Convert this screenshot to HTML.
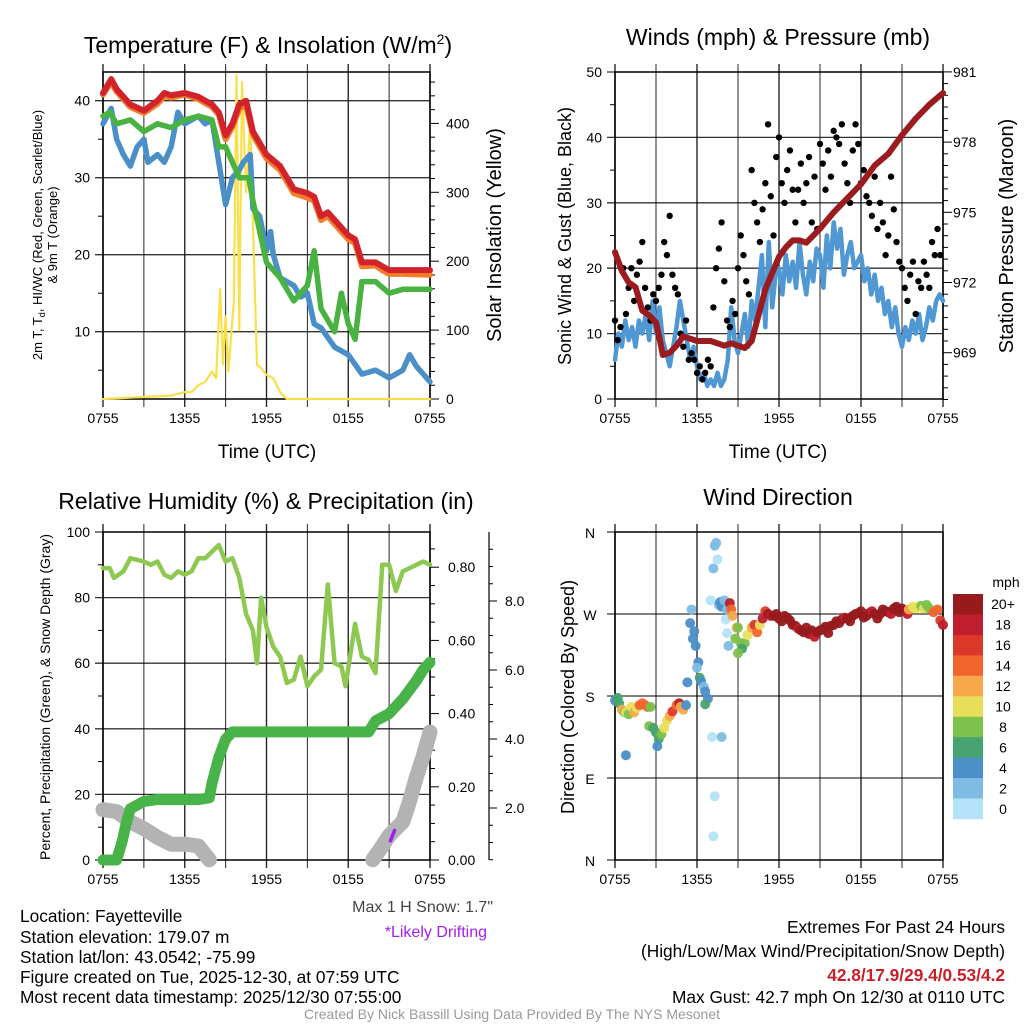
<!DOCTYPE html>
<html><head><meta charset="utf-8"><style>
html,body{margin:0;padding:0;background:#fff;}
svg{display:block;font-family:"Liberation Sans",Arial,sans-serif;}
.n{font-family:"Liberation Sans Narrow","Liberation Sans",sans-serif;}
</style></head><body>
<svg id="c" width="1024" height="1024" viewBox="0 0 1024 1024" xmlns="http://www.w3.org/2000/svg">
<rect width="1024" height="1024" fill="#fff"/>
<g id="g1"></g>
<g id="g2"></g>
<g id="g3"></g>
<g id="g4"></g>
<text x="268" y="53" font-size="23" text-anchor="middle">Temperature (F) &amp; Insolation (W/m<tspan font-size="14" dy="-9">2</tspan><tspan dy="9">)</tspan></text>
<text x="778" y="45" font-size="23" text-anchor="middle">Winds (mph) &amp; Pressure (mb)</text>
<text x="266" y="509" font-size="23" text-anchor="middle">Relative Humidity (%) &amp; Precipitation (in)</text>
<text x="778" y="505" font-size="23" text-anchor="middle">Wind Direction</text>
<text transform="translate(42,235) rotate(-90)" font-size="13" text-anchor="middle">2m T, T<tspan font-size="9" dy="3">d</tspan><tspan dy="-3">, HI/WC (Red, Green, Scarlet/Blue)</tspan></text>
<text transform="translate(57,235) rotate(-90)" font-size="13" text-anchor="middle">&amp; 9m T (Orange)</text>
<text transform="translate(501,235) rotate(-90)" font-size="20" text-anchor="middle">Solar Insolation (Yellow)</text>
<text x="267" y="458" font-size="19" text-anchor="middle">Time (UTC)</text>
<text x="778" y="458" font-size="19" text-anchor="middle">Time (UTC)</text>
<text transform="translate(571,236) rotate(-90)" font-size="18" text-anchor="middle">Sonic Wind &amp; Gust (Blue, Black)</text>
<text transform="translate(1013,236) rotate(-90)" font-size="20" text-anchor="middle">Station Pressure (Maroon)</text>
<text transform="translate(50,697) rotate(-90)" font-size="14" text-anchor="middle">Percent, Precipitation (Green), &amp; Snow Depth (Gray)</text>
<text transform="translate(574,697) rotate(-90)" font-size="18" text-anchor="middle">Direction (Colored By Speed)</text>
<g class="n" font-size="17.3">
<text x="493" y="912" text-anchor="end" fill="#444" font-size="16">Max 1 H Snow: 1.7"</text>
<text x="487" y="937" text-anchor="end" fill="#a020f0" font-size="16">*Likely Drifting</text>
<text x="20" y="922">Location: Fayetteville</text>
<text x="20" y="943">Station elevation: 179.07 m</text>
<text x="20" y="963">Station lat/lon: 43.0542; -75.99</text>
<text x="20" y="983">Figure created on Tue, 2025-12-30, at 07:59 UTC</text>
<text x="20" y="1003">Most recent data timestamp: 2025/12/30 07:55:00</text>
<text x="1005" y="933" text-anchor="end">Extremes For Past 24 Hours</text>
<text x="1005" y="957" text-anchor="end">(High/Low/Max Wind/Precipitation/Snow Depth)</text>
<text x="1005" y="981" text-anchor="end" fill="#c8202a" font-weight="bold">42.8/17.9/29.4/0.53/4.2</text>
<text x="1005" y="1003" text-anchor="end">Max Gust: 42.7 mph On 12/30 at 0110 UTC</text>
<text x="512" y="1019" text-anchor="middle" font-size="14" fill="#999">Created By Nick Bassill Using Data Provided By The NYS Mesonet</text>
</g>
</svg>
<script>
// ---- data ----
const xTickLabels=["0755","1355","1955","0155","0755"];
const tRed=[0,0.6,1,2,3,4,4.5,5,6,7,8,8.5,9,9.5,10,10.5,11,12,13,14,15,15.5,16,16.5,17,18,18.5,19,20,20.5,21,22,24];
const vRed=[41,42.8,41.5,39.5,38.7,40,41,40.7,41,40.5,39.5,38.5,35.5,37,39.5,40,36,33,31.5,28.5,28,27.5,25,25.5,24.5,22.5,22,19,19,18.5,18,18,18];
const vOrange=[40.8,42.4,41.2,39.2,38.4,39.6,40.6,40.4,40.8,40.2,39.2,38.2,35,36.6,39,39.4,35.6,32.5,31,28,27.4,27,24.5,25,24,22,21.5,18.5,18.6,18,17.5,17.5,17.4];
const tGreen=[0,0.5,1,2,3,4,5,6,7,8,8.5,9,10,10.7,11,12,13,14,15,15.5,16,17,17.5,18,18.5,19,20,21,22,24];
const vGreen=[38,38.5,37,37.5,36,37,36.5,37.5,38,37.5,34,34,30,30,27,19,17,14,16,20.5,13,10,15,11,9,16.5,16.5,15,15.5,15.5];
const tBlue=[0,0.6,1,1.5,2,2.5,3,3.3,4,4.5,5,5.5,6,6.5,7,7.5,8,8.5,9,9.5,10,10.3,10.8,11,11.5,12,12.3,12.5,13,14,14.5,15,15.5,16,17,18,19,20,21,22,22.5,23,24];
const vBlue=[37,39,35,33,31.5,34,35,32,33,32,34,38.5,37,37.5,38,37,37.5,32,26.5,30,31,32,33,26,25,20.5,23,20,17,16,14.5,15,11,10.5,8,7,4.5,5,4,5,7,5.5,3.5];
const tSolar=[0,5,6,6.5,7,7.5,8,8.3,8.6,8.8,9,9.2,9.6,9.8,10,10.2,10.5,10.8,11.1,11.3,11.6,12,12.5,13,13.5,24];
const vSolar=[0,5,10,10,20,25,40,30,160,50,120,40,140,470,100,460,300,400,190,50,45,35,30,10,0,0];

const tWind=[];for(let i=0;i<97;i++)tWind.push(i*0.25);
const vWind=[6,10,8,12,9,11,8,12,10,13,9,15,
10,14,9,7,5,8,11,15,12,9,6,8,
5,3,4,2,3,2,4,2,3,6,14,9,
7,10,13,8,15,12,17,22,11,24,14,19,
20,16,22,18,21,17,24,19,16,21,18,23,
22,17,25,20,27,23,26,19,22,24,20,21,
22,18,20,16,19,15,17,13,15,11,14,10,
8,11,9,12,10,13,9,11,14,12,15,16,15];
const tPres=[0,0.5,1,1.5,2,2.5,3,3.3,3.5,4,4.5,5,6,7,8,8.5,9,9.5,10,10.5,11,11.5,12,12.5,13,13.5,14,14.5,15,16,17,18,19,20,21,22,23,24];
const vPres=[973.3,972.5,972,971.8,970.8,970.6,970.3,969.5,968.9,969,969.3,969.7,969.5,969.5,969.3,969.4,969.3,969.2,969.5,970.6,971.7,972.4,973.1,973.5,973.8,973.8,973.7,974,974.3,975,975.6,976.2,977,977.5,978.3,979,979.6,980.1];
const tGust=[];for(let i=0;i<120;i++)tGust.push(i*0.2);
const vGust=[12,9,11,20,13,17,20,15,19,21,24,17,14,12,16,15,17,19,24,22,28,19,17,16,10,8,12,6,7,6,4,5,3,4,6,5,14,20,23,27,18,12,11,15,13,20,25,22,18,16,35,30,27,24,29,33,42,31,25,37,40,33,30,35,38,32,27,32,36,30,33,37,27,34,26,39,36,32,38,34,41,40,39,42,36,33,30,38,42,39,33,35,31,30,28,34,26,30,27,22,25,34,29,24,21,20,17,15,19,21,13,18,17,21,19,17,24,22,26,22];

const tRH=[0,0.5,0.8,1.5,2,3,3.5,4,4.5,5,5.5,6,6.5,7,7.5,8.5,9,9.5,10,10.5,11,11.3,11.6,12,12.5,13,13.5,14,14.5,15,15.5,16,16.5,17,17.5,17.8,18.5,19,19.5,20,20.5,21,21.5,22,22.5,23,23.5,24];
const vRH=[89,89,86,88,92,91,90,91,87,86,88,87,88,92,92,96,91,92,86,75,70,60,80,71,65,62,54,55,62,53,56,58,84,60,59,53,72,62,61,57,90,90,82,88,89,90,91,90];
const tPrecip=[0,1,1.4,1.7,2,3,4,5,6,7,7.8,8,8.5,9,9.5,10,19.5,20,21,22,23,23.5,24];
const vPrecip=[0,0,0.05,0.1,0.14,0.16,0.165,0.165,0.165,0.165,0.17,0.21,0.28,0.33,0.35,0.35,0.35,0.38,0.40,0.44,0.49,0.52,0.54];
const tSnowA=[0,1,2,3,4,5,6,7,7.8];
const vSnowA=[1.95,1.9,1.6,1.4,1.15,0.95,0.95,0.9,0.5];
const tSnowB=[19.8,20.5,21,21.5,22,22.5,23,23.5,24];
const vSnowB=[0.5,0.9,1.2,1.4,1.6,2.2,2.9,3.5,4.2];
const pctTicks=[0,20,40,60,80,100];
const precipTicks=[0,0.2,0.4,0.6,0.8];
const snowTicks=[2,4,6,8];

const tDir=[0,0.2,0.3,0.5,0.7,0.8,1.0,1.2,1.4,1.6,1.8,2.0,2.2,2.4,2.6,0.8,2.5,2.8,3.0,3.2,3.1,3.4,3.6,3.8,4.0,4.2,4.5,4.7,4.8,5.0,5.2,5.3,5.5,5.6,5.7,5.8,5.9,6.1,6.0,6.2,6.3,6.5,6.6,6.8,6.6,7.0,7.1,7.2,7.3,7.4,7.3,7.2,7.5,7.6,7.7,7.8,8.0,8.2,7.8,8.1,8.2,8.3,8.4,8.5,8.6,8.9,9.0,8.8,9.2,9.5,9.3,9.0,9.7,10.0,10.2,10.4,10.6,10.8,11.0,11.2,11.4,
11.6,11.8,12.0,12.2,12.4,12.6,12.8,13.0,13.2,13.4,13.6,13.8,14.0,14.2,14.4,14.6,14.8,15.0,15.2,15.4,15.6,15.8,16.0,16.2,16.4,16.6,16.8,17.0,17.2,17.4,17.6,17.8,18.0,18.2,18.4,18.6,18.8,19.0,19.2,19.4,19.6,19.8,20.0,20.2,20.4,20.6,20.8,21.0,21.2,21.4,
21.5,21.8,22.0,22.2,22.4,22.6,22.8,23.0,23.3,23.6,23.8,24.0];
const vDir=[175,178,172,165,162,162,160,168,162,167,170,172,170,168,168,115,147,145,140,133,125,138,145,153,158,163,170,172,168,165,170,195,260,275,243,251,235,217,211,200,196,190,185,177,171,285,135,320,345,348,70,26,330,280,283,278,285,275,135,264,249,235,282,275,268,255,255,243,238,238,232,227,247,255,258,250,258,265,273,270,268,
268,270,265,262,268,266,263,258,257,254,252,250,255,248,252,245,250,252,253,256,249,257,258,262,260,264,266,265,262,268,270,271,273,266,268,271,273,270,265,270,275,273,272,270,276,278,272,276,274,270,275,278,276,
278,279,276,280,276,272,275,263,258,255,258,262];
const sDir=[5,6,6,12,9,10,8,10,12,10,14,15,14,14,9,4,8,7,7,7,4,8,10,10,12,16,14,19,12,12,4,4,4,3,4,5,4,5,3,6,4,3,4,4,6,0,1,2,2,2,0,0,0,3,4,5,2,3,3,0,0,2,18,15,12,12,8,8,8,8,6,8,10,12,16,14,10,18,16,20,19,
20,20,20,20,20,20,20,20,20,18,20,20,20,20,20,18,20,20,20,20,20,20,20,20,20,20,18,20,20,20,20,20,20,20,20,20,18,20,20,20,20,20,20,18,20,20,20,20,20,18,
12,11,10,10,9,11,9,8,14,14,16,18];
const cbLabels=["20+","18","16","14","12","10","8","6","4","2","0"];
const cbColors=["#971a1d","#be1e2d","#dc382a","#f1652c","#f6a94a","#e7df5a","#7cc14b","#47a36f","#4a8fc7","#7fbce4","#b5e2f7"];
const dirLabels=["N","W","S","E","N"];

// ---- helpers ----
const NS="http://www.w3.org/2000/svg";
function mk(parent,tag,attrs){const e=document.createElementNS(NS,tag);for(const k in attrs)e.setAttribute(k,attrs[k]);parent.appendChild(e);return e;}
function txt(parent,x,y,s,size,anchor){const e=mk(parent,"text",{x:x,y:y,"font-size":size,"text-anchor":anchor});e.textContent=s;return e;}
function line(parent,pts,color,w,name){const e=mk(parent,"polyline",{points:pts.map(p=>p[0].toFixed(1)+","+p[1].toFixed(1)).join(" "),fill:"none",stroke:color,"stroke-width":w,"stroke-linejoin":"round","stroke-linecap":"round"});


return e;}
function frame(g,L,R,T,B,name){
 for(let i=0;i<=8;i++){const x=L+(R-L)*i/8;
  const l=mk(g,"line",{x1:x,x2:x,y1:T-8,y2:B+8,stroke:"#000","stroke-width":i%2?1:1.4,"stroke-opacity":0.85});
  
  }
 for(let i=0;i<5;i++){const t=txt(g,L+(R-L)*i/4,B+24,xTickLabels[i],14,"middle");
  
  }
 const r=mk(g,"rect",{x:L,y:T,width:R-L,height:B-T,fill:"none",stroke:"#000","stroke-width":1.5});
 
 
}
function hgrid(g,L,R,y){const l=mk(g,"line",{x1:L-8,x2:R,y1:y,y2:y,stroke:"#000","stroke-width":1.3,"stroke-opacity":0.8});
 
 }
function tick(g,x,y,len){mk(g,"line",{x1:x,x2:x+len,y1:y,y2:y,stroke:"#000","stroke-width":1});}

// ---- panel 1 ----
(function(){
 const g=document.getElementById("g1");const L=103,R=430,T=72,B=399;
 const X=t=>L+t/24*(R-L), Y=v=>408.7-v*7.7, S=v=>B-v*0.689;
 frame(g,L,R,T,B,"temperature-plot-area");
 [10,20,30,40].forEach(v=>{hgrid(g,L,R,Y(v));const t=txt(g,L-13,Y(v)+5,String(v),14,"end");
  });
 [5,15,25,35].forEach(v=>tick(g,L-5,Y(v),5));
 for(let v=0;v<=460;v+=20){tick(g,R,S(v),v%100?5:9);}
 [0,100,200,300,400].forEach(v=>{const t=txt(g,R+16,S(v)+5,String(v),14,"start");
  });
 line(g,tSolar.map((t,i)=>[X(t),Math.max(T-2,S(vSolar[i]))]),"#f9e04b",2.2,"solar-line");
 line(g,tBlue.map((t,i)=>[X(t),Y(vBlue[i])]),"#4a8fc7",5.5,"windchill-line");
 line(g,tGreen.map((t,i)=>[X(t),Y(vGreen[i])]),"#48b340",5.5,"dewpoint-line");
 line(g,tRed.map((t,i)=>[X(t),Y(vOrange[i])]),"#f47c2b",6,"temp-9m-line");
 line(g,tRed.map((t,i)=>[X(t),Y(vRed[i])]),"#d2232a",6,"temp-2m-line");
})();

// ---- panel 2 ----
(function(){
 const g=document.getElementById("g2");const L=615,R=943,T=72,B=399;
 const X=t=>L+t/24*(R-L), Y=v=>B-v*(B-T)/50, P=v=>352.7-(v-969)*23.4;
 frame(g,L,R,T,B,"wind-plot-area");
 [0,10,20,30,40,50].forEach(v=>{if(v>0&&v<50)hgrid(g,L,R,Y(v));else tick(g,L-8,Y(v),8);const t=txt(g,L-13,Y(v)+5,String(v),14,"end");
  });
 [5,15,25,35,45].forEach(v=>tick(g,L-5,Y(v),5));
 for(let v=967;v<=981;v+=0.5){tick(g,R,P(v),(v%3===0)?9:5);}
 [969,972,975,978,981].forEach(v=>{const t=txt(g,R+10,P(v)+5,String(v),14,"start");
  });
 line(g,tWind.map((t,i)=>[X(t),Y(vWind[i])]),"#4f98d4",4.5,"sonic-wind-line");
 tGust.forEach((t,i)=>{const c=mk(g,"circle",{cx:X(t),cy:Y(vGust[i]),r:3.2,fill:"#000"});
  });
 line(g,tPres.map((t,i)=>[X(t),P(vPres[i])]),"#9b1b1e",6,"pressure-line");
})();

// ---- panel 3 ----
(function(){
 const g=document.getElementById("g3");const L=103,R=430,T=532,B=860;
 const X=t=>L+t/24*(R-L), Y=v=>B-v*(B-T)/100, Pr=v=>B-v*366, Sn=v=>877-v*34.5;
 frame(g,L,R,T,B,"humidity-plot-area");
 pctTicks.forEach(v=>{if(v>0&&v<100)hgrid(g,L,R,Y(v));else tick(g,L-8,Y(v),8);const t=txt(g,L-13,Y(v)+5,String(v),14,"end");
  });
 [10,30,50,70,90].forEach(v=>tick(g,L-5,Y(v),5));
 for(let v=0;v<=0.88;v+=0.05){tick(g,R,Pr(v),Math.round(v*100)%20===0?9:5);}
 precipTicks.forEach(v=>{const t=txt(g,R+18,Pr(v)+5,v.toFixed(2),14,"start");
  });
 const ax=mk(g,"line",{x1:489,x2:489,y1:532,y2:860,stroke:"#000","stroke-width":1.2});
 
 for(let v=0.5;v<=9.5;v+=0.5){if(Sn(v)>=532&&Sn(v)<=860)tick(g,489,Sn(v),v%2===0?8:4);}
 snowTicks.forEach(v=>{const t=txt(g,505,Sn(v)+5,v.toFixed(1),14,"start");
  });
 const cp=mk(g,"clipPath",{id:"cp3"});mk(cp,"rect",{x:L-12,y:T,width:R-L+24,height:B-T+12});
 const gc=mk(g,"g",{"clip-path":"url(#cp3)"});
 line(gc,tSnowA.map((t,i)=>[X(t),Sn(vSnowA[i])]),"#b3b3b3",15,"snow-depth-line-a");
 line(gc,tSnowB.map((t,i)=>[X(t),Sn(vSnowB[i])]),"#b3b3b3",15,"snow-depth-line-b");
 const dr=mk(gc,"line",{x1:X(21.1),y1:Sn(1.05),x2:X(21.4),y2:Sn(1.35),stroke:"#a020f0","stroke-width":3.5,"stroke-linecap":"round"});
 
 line(gc,tPrecip.map((t,i)=>[X(t),Pr(vPrecip[i])]),"#48b348",11,"precip-line");
 line(g,tRH.map((t,i)=>[X(t),Y(vRH[i])]),"#8dc850",4.5,"rh-line");
})();

// ---- panel 4 ----
(function(){
 const g=document.getElementById("g4");const L=615,R=943,T=532,B=860;
 const X=t=>L+t/24*(R-L), Y=v=>B-v/360*(B-T);
 frame(g,L,R,T,B,"direction-plot-area");
 dirLabels.forEach((s,i)=>{const y=T+i*(B-T)/4;if(i>0&&i<4)hgrid(g,L,R,y);else tick(g,L-8,y,8);
  const t=txt(g,590,y+6,s,14,"middle");});
 tDir.forEach((t,i)=>{const b=Math.min(10,Math.floor(sDir[i]/2));
  const c=mk(g,"circle",{cx:X(t),cy:Y(vDir[i]),r:5,fill:cbColors[10-b],"fill-opacity":0.95});
  });
 const cb=mk(g,"g",{});
 const h=(819-594)/11;
 cbColors.forEach((c,i)=>{const r=mk(cb,"rect",{x:953,y:594+i*h,width:30,height:h+0.3,fill:c});
  
  const t=txt(cb,1003,594+i*h+h/2+5,cbLabels[i],14,"middle");
  });
 const m=txt(cb,1006,587,"mph",14,"middle");
})();
</script>
</body></html>
